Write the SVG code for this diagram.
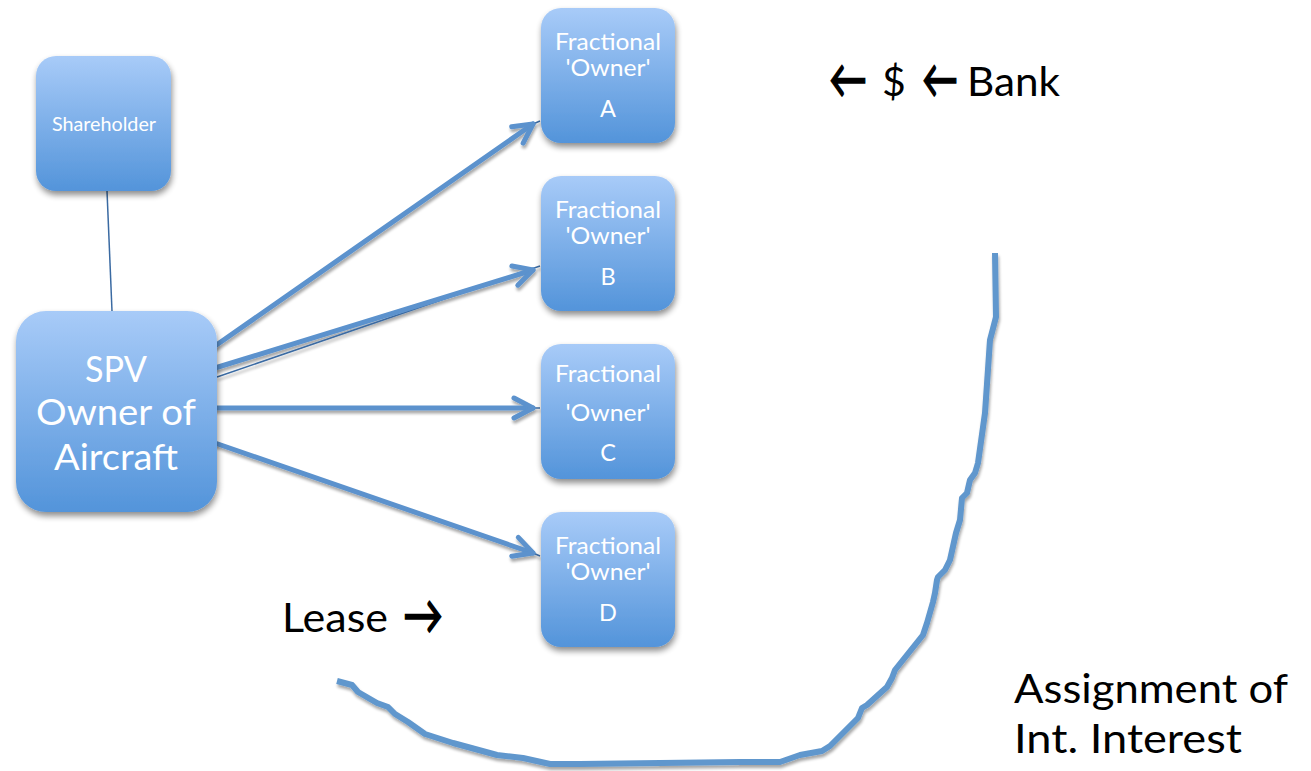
<svg xmlns="http://www.w3.org/2000/svg" width="1311" height="771" viewBox="0 0 1311 771">
<style>
  .box { fill: url(#boxGrad); filter: url(#shadow); }
  .wt { font-family: Lato, "Open Sans", "DejaVu Sans", sans-serif; fill: #ffffff; text-anchor: middle; }
  .bt { font-family: Lato, "Open Sans", "DejaVu Sans", sans-serif; fill: #000000; }
  .arr { font-size: 54px; stroke: #000000; stroke-width: 1.6; }
  .conn { stroke: #5b92cd; stroke-width: 5; fill: none; stroke-linecap: round; }
  .thin { stroke: #3a6aa2; stroke-width: 1.5; fill: none; }
  .curve { stroke: #6197cd; stroke-width: 6; fill: none; stroke-linejoin: round; stroke-linecap: butt; filter: url(#lshadow); }
</style>
<defs>
  <linearGradient id="boxGrad" x1="0" y1="0" x2="0" y2="1">
    <stop offset="0" stop-color="#a8cbf8"/>
    <stop offset="1" stop-color="#5394da"/>
  </linearGradient>
  <filter id="shadow" x="-20%" y="-20%" width="140%" height="150%">
    <feGaussianBlur in="SourceAlpha" stdDeviation="3"/>
    <feOffset dx="1" dy="4" result="b"/>
    <feComponentTransfer><feFuncA type="linear" slope="0.45"/></feComponentTransfer>
    <feMerge><feMergeNode/><feMergeNode in="SourceGraphic"/></feMerge>
  </filter>
  <filter id="lshadow" x="-10%" y="-10%" width="120%" height="120%">
    <feGaussianBlur in="SourceAlpha" stdDeviation="1.5"/>
    <feOffset dx="1" dy="3"/>
    <feComponentTransfer><feFuncA type="linear" slope="0.35"/></feComponentTransfer>
    <feMerge><feMergeNode/><feMergeNode in="SourceGraphic"/></feMerge>
  </filter>
  <marker id="chev" markerUnits="userSpaceOnUse" markerWidth="30" markerHeight="30" viewBox="-25 -15 30 30" refX="0" refY="0" orient="auto">
    <path d="M -19 -10 L 0 0 L -19 10" fill="none" stroke="#5b92cd" stroke-width="5" stroke-linecap="round" stroke-linejoin="round"/>
  </marker>
</defs>

<g id="connectors">
  <line class="thin" x1="107" y1="191" x2="112" y2="311"/>
  <g filter="url(#lshadow)">
    <line class="thin" x1="533" y1="124" x2="540" y2="121"/>
    <line class="thin" x1="217" y1="377" x2="540" y2="266"/>
    <line class="thin" x1="533" y1="408" x2="540" y2="408"/>
    <line class="thin" x1="533" y1="553" x2="540" y2="556"/>
    <line class="conn" x1="215" y1="346" x2="533" y2="124" marker-end="url(#chev)"/>
    <line class="conn" x1="215" y1="368" x2="533" y2="270" marker-end="url(#chev)"/>
    <line class="conn" x1="215" y1="408" x2="533" y2="408" marker-end="url(#chev)"/>
    <line class="conn" x1="215" y1="443" x2="533" y2="553" marker-end="url(#chev)"/>
  </g>
  <path class="curve" d="M 337,681 L 352,685 L 358,692 L 377,703 L 388,707 L 395,714 L 408,722 L 425,734 L 453,743 L 497,755 L 523,758 L 550,764 L 580,764 L 740,762 L 780,762 L 800,755 L 822,751 L 830,746 L 858,718 L 862,708 L 867,705 L 887,687 L 892,678 L 895,670 L 923,635 L 927,623 L 933,602 L 935,593 L 937,580 L 938,577 L 945,570 L 950,560 L 956,533 L 960,520 L 962,498 L 967,493 L 970,480 L 975,473 L 978,463 L 985,413 L 990,340 L 996,317 L 995,253"/>
</g>

<g id="shareholder">
  <rect class="box" x="36" y="56" width="135" height="135" rx="20"/>
  <text class="wt" x="104" y="131" font-size="18.5" textLength="104" lengthAdjust="spacingAndGlyphs">Shareholder</text>
</g>

<g id="spv">
  <rect class="box" x="16" y="311" width="201" height="201" rx="30"/>
  <text class="wt" x="116" y="382" font-size="37.5" textLength="62" lengthAdjust="spacingAndGlyphs">SPV</text>
  <text class="wt" x="116" y="425" font-size="37.5" textLength="160" lengthAdjust="spacingAndGlyphs">Owner of</text>
  <text class="wt" x="116" y="470" font-size="37.5" textLength="124" lengthAdjust="spacingAndGlyphs">Aircraft</text>
</g>

<g id="owner-a">
  <rect class="box" x="541" y="8" width="134" height="135" rx="20"/>
  <text class="wt" x="608" y="50" font-size="23.5" textLength="106" lengthAdjust="spacingAndGlyphs">Fractional</text>
  <text class="wt" x="608" y="76" font-size="23.5" textLength="85" lengthAdjust="spacingAndGlyphs">'Owner'</text>
  <text class="wt" x="608" y="117" font-size="23.5">A</text>
</g>

<g id="owner-b">
  <rect class="box" x="541" y="176" width="134" height="135" rx="20"/>
  <text class="wt" x="608" y="218" font-size="23.5" textLength="106" lengthAdjust="spacingAndGlyphs">Fractional</text>
  <text class="wt" x="608" y="244" font-size="23.5" textLength="85" lengthAdjust="spacingAndGlyphs">'Owner'</text>
  <text class="wt" x="608" y="285" font-size="23.5">B</text>
</g>

<g id="owner-c">
  <rect class="box" x="541" y="344" width="134" height="135" rx="20"/>
  <text class="wt" x="608" y="382" font-size="23.5" textLength="106" lengthAdjust="spacingAndGlyphs">Fractional</text>
  <text class="wt" x="608" y="421" font-size="23.5" textLength="85" lengthAdjust="spacingAndGlyphs">'Owner'</text>
  <text class="wt" x="608" y="461" font-size="23.5">C</text>
</g>

<g id="owner-d">
  <rect class="box" x="541" y="512" width="134" height="135" rx="20"/>
  <text class="wt" x="608" y="554" font-size="23.5" textLength="106" lengthAdjust="spacingAndGlyphs">Fractional</text>
  <text class="wt" x="608" y="580" font-size="23.5" textLength="85" lengthAdjust="spacingAndGlyphs">'Owner'</text>
  <text class="wt" x="608" y="621" font-size="23.5">D</text>
</g>

<g id="labels">
  <text class="bt" y="96" font-size="41"><tspan class="arr" x="829" y="98" textLength="38" lengthAdjust="spacingAndGlyphs">←</tspan><tspan x="882" y="96">$</tspan><tspan class="arr" x="922" y="98" textLength="36" lengthAdjust="spacingAndGlyphs">←</tspan><tspan x="967" y="96" textLength="93" lengthAdjust="spacingAndGlyphs">Bank</tspan></text>
  <text class="bt" y="632" font-size="41"><tspan x="282" textLength="106" lengthAdjust="spacingAndGlyphs">Lease</tspan><tspan class="arr" x="403" y="634" textLength="40" lengthAdjust="spacingAndGlyphs">→</tspan></text>
  <text class="bt" x="1014" y="703" font-size="41" textLength="274" lengthAdjust="spacingAndGlyphs">Assignment of</text>
  <text class="bt" x="1014" y="753" font-size="41" textLength="228" lengthAdjust="spacingAndGlyphs">Int. Interest</text>
</g>
</svg>
